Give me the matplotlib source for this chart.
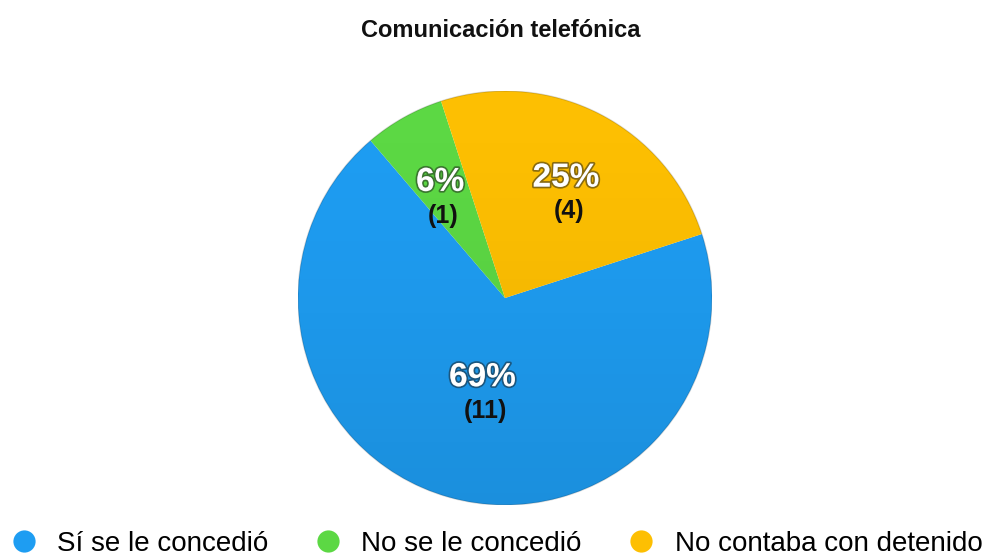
import numpy as np
import matplotlib
matplotlib.use("Agg")
import matplotlib.pyplot as plt
import matplotlib.patheffects as pe
from matplotlib.lines import Line2D

# Respuestas sobre la comunicación telefónica
categorias = ["Sí se le concedió", "No se le concedió", "No contaba con detenido"]
casos = [11, 1, 4]
colores = ["#1E9DF2", "#5CD844", "#FDBF02"]

fig = plt.figure(figsize=(9.95, 5.58), dpi=100)
ax = fig.add_axes([298 / 995, 53 / 558, 414 / 995, 414 / 558])

inicio = 18
wedges, _ = ax.pie(casos, colors=colores, startangle=inicio, counterclock=False,
                   radius=1, wedgeprops=dict(linewidth=0))
ax.set_xlim(-1, 1)
ax.set_ylim(-1, 1)

# degradado vertical suave sobre el círculo
grad = np.linspace(0, 1, 256).reshape(-1, 1)
overlay = np.zeros((256, 1, 4))
overlay[..., 3] = 0.09 * grad[::-1] ** 1.5
img = ax.imshow(overlay, extent=[-1, 1, -1, 1], origin="lower", aspect="auto", zorder=3)
circ = plt.Circle((0, 0), 1, transform=ax.transData)
img.set_clip_path(circ)
ax.add_patch(plt.Circle((0, 0), 1, fill=False, lw=1.0, ec=(0, 0, 0, 0.15), zorder=4))

total = sum(casos)
distancias = [0.40, 0.64, 0.65]
for w, n, d in zip(wedges, casos, distancias):
    ang = np.deg2rad((w.theta1 + w.theta2) / 2)
    x, y = d * np.cos(ang), d * np.sin(ang)
    ax.text(x, y, f"{round(100 * n / total)}%", ha="center", va="center",
            fontsize=24, fontweight="bold", color="white", family="Liberation Sans",
            path_effects=[pe.withStroke(linewidth=2.5, foreground=(0.1, 0.1, 0.1, 0.5))],
            zorder=5)
    ax.text(x + 0.015, y - 0.16, f"({n})", ha="center", va="center",
            fontsize=18, fontweight="bold", color="#111111", family="Liberation Sans",
            zorder=5)

fig.text(0.503, 0.945, "Comunicación telefónica", ha="center", va="center",
         fontsize=17, fontweight="bold", family="Liberation Sans", color="#111111")

handles = [Line2D([], [], marker="o", ls="", markersize=16, markerfacecolor=c,
                  markeredgewidth=0) for c in colores]
fig.legend(handles, categorias, loc="lower center", bbox_to_anchor=(0.5, -0.043),
           ncol=3, frameon=False, handlelength=0.8, handletextpad=0.8,
           columnspacing=1.75, prop=dict(family="Liberation Sans", size=20))

fig.savefig("out.png", dpi=100, facecolor="white")
